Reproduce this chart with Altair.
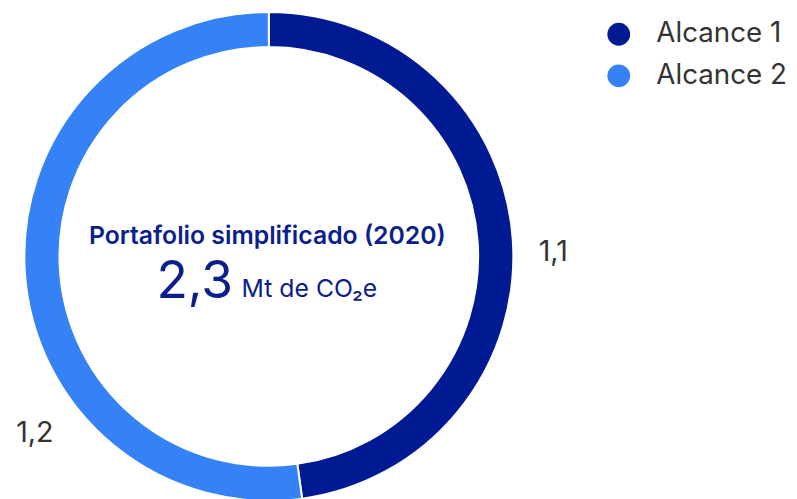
import altair as alt
import pandas as pd

categories = ["Alcance 1", "Alcance 2"]
values = [1.1, 1.2]
labels = ["1,1", "1,2"]
order = [1, 2]
colors = ["#001A94", "#3482F6"]

title_text = ["Portafolio simplificado (2020)"]
total_text = ["2,3"]
unit_text = ["Mt de CO\u2082e"]

df = pd.DataFrame({"cat": categories, "value": values, "label": labels, "ord": order})

FONT = "Inter"
CX, CY = 263.5, 248.5

base = alt.Chart(df)

arc = base.mark_arc(outerRadius=247, innerRadius=211.5, stroke="white", strokeWidth=2).encode(
    theta=alt.Theta("value:Q", stack=True),
    color=alt.Color("cat:N", scale=alt.Scale(domain=categories, range=colors),
                    legend=alt.Legend(title=None, orient="none", legendX=603, legendY=10,
                                      symbolType="circle", symbolSize=529, symbolStrokeWidth=0,
                                      labelFontSize=28, labelColor="#333333", labelFont=FONT,
                                      labelOffset=24, rowPadding=14, padding=0)),
    order=alt.Order("ord:Q"),
    x=alt.value(CX), y=alt.value(CY),
)

def lab(cat, dx, dy):
    return base.transform_calculate(
        t=f"datum.cat == '{cat}' ? datum.label : ''"
    ).mark_text(radius=288, fontSize=29, font=FONT, color="#333333", dx=dx, dy=dy).encode(
        theta=alt.Theta("value:Q", stack=True),
        order=alt.Order("ord:Q"),
        text="t:N",
        x=alt.value(CX), y=alt.value(CY),
    )

lab1 = lab("Alcance 1", 0, 15)
lab2 = lab("Alcance 2", 51, 159)

title = alt.Chart(pd.DataFrame({"t": title_text})).mark_text(
    fontSize=25, fontWeight=600, font=FONT, color="#0A1E8C", align="center", baseline="alphabetic"
).encode(text="t:N", x=alt.value(262), y=alt.value(236))

total = alt.Chart(pd.DataFrame({"t": total_text})).mark_text(
    fontSize=52, fontWeight=400, font=FONT, color="#0A1E8C", align="left", baseline="alphabetic"
).encode(text="t:N", x=alt.value(150), y=alt.value(290))

unit = alt.Chart(pd.DataFrame({"t": unit_text})).mark_text(
    fontSize=25, fontWeight=400, font=FONT, color="#0A1E8C", align="left", baseline="alphabetic"
).encode(text="t:N", x=alt.value(236), y=alt.value(289))

chart = alt.layer(arc, lab1, lab2, title, total, unit).properties(
    width=789, height=491, padding=0, autosize=alt.AutoSizeParams(type="none")
).configure_view(stroke=None)

chart.save("out.html", embed_options={"renderer": "svg", "actions": False})
